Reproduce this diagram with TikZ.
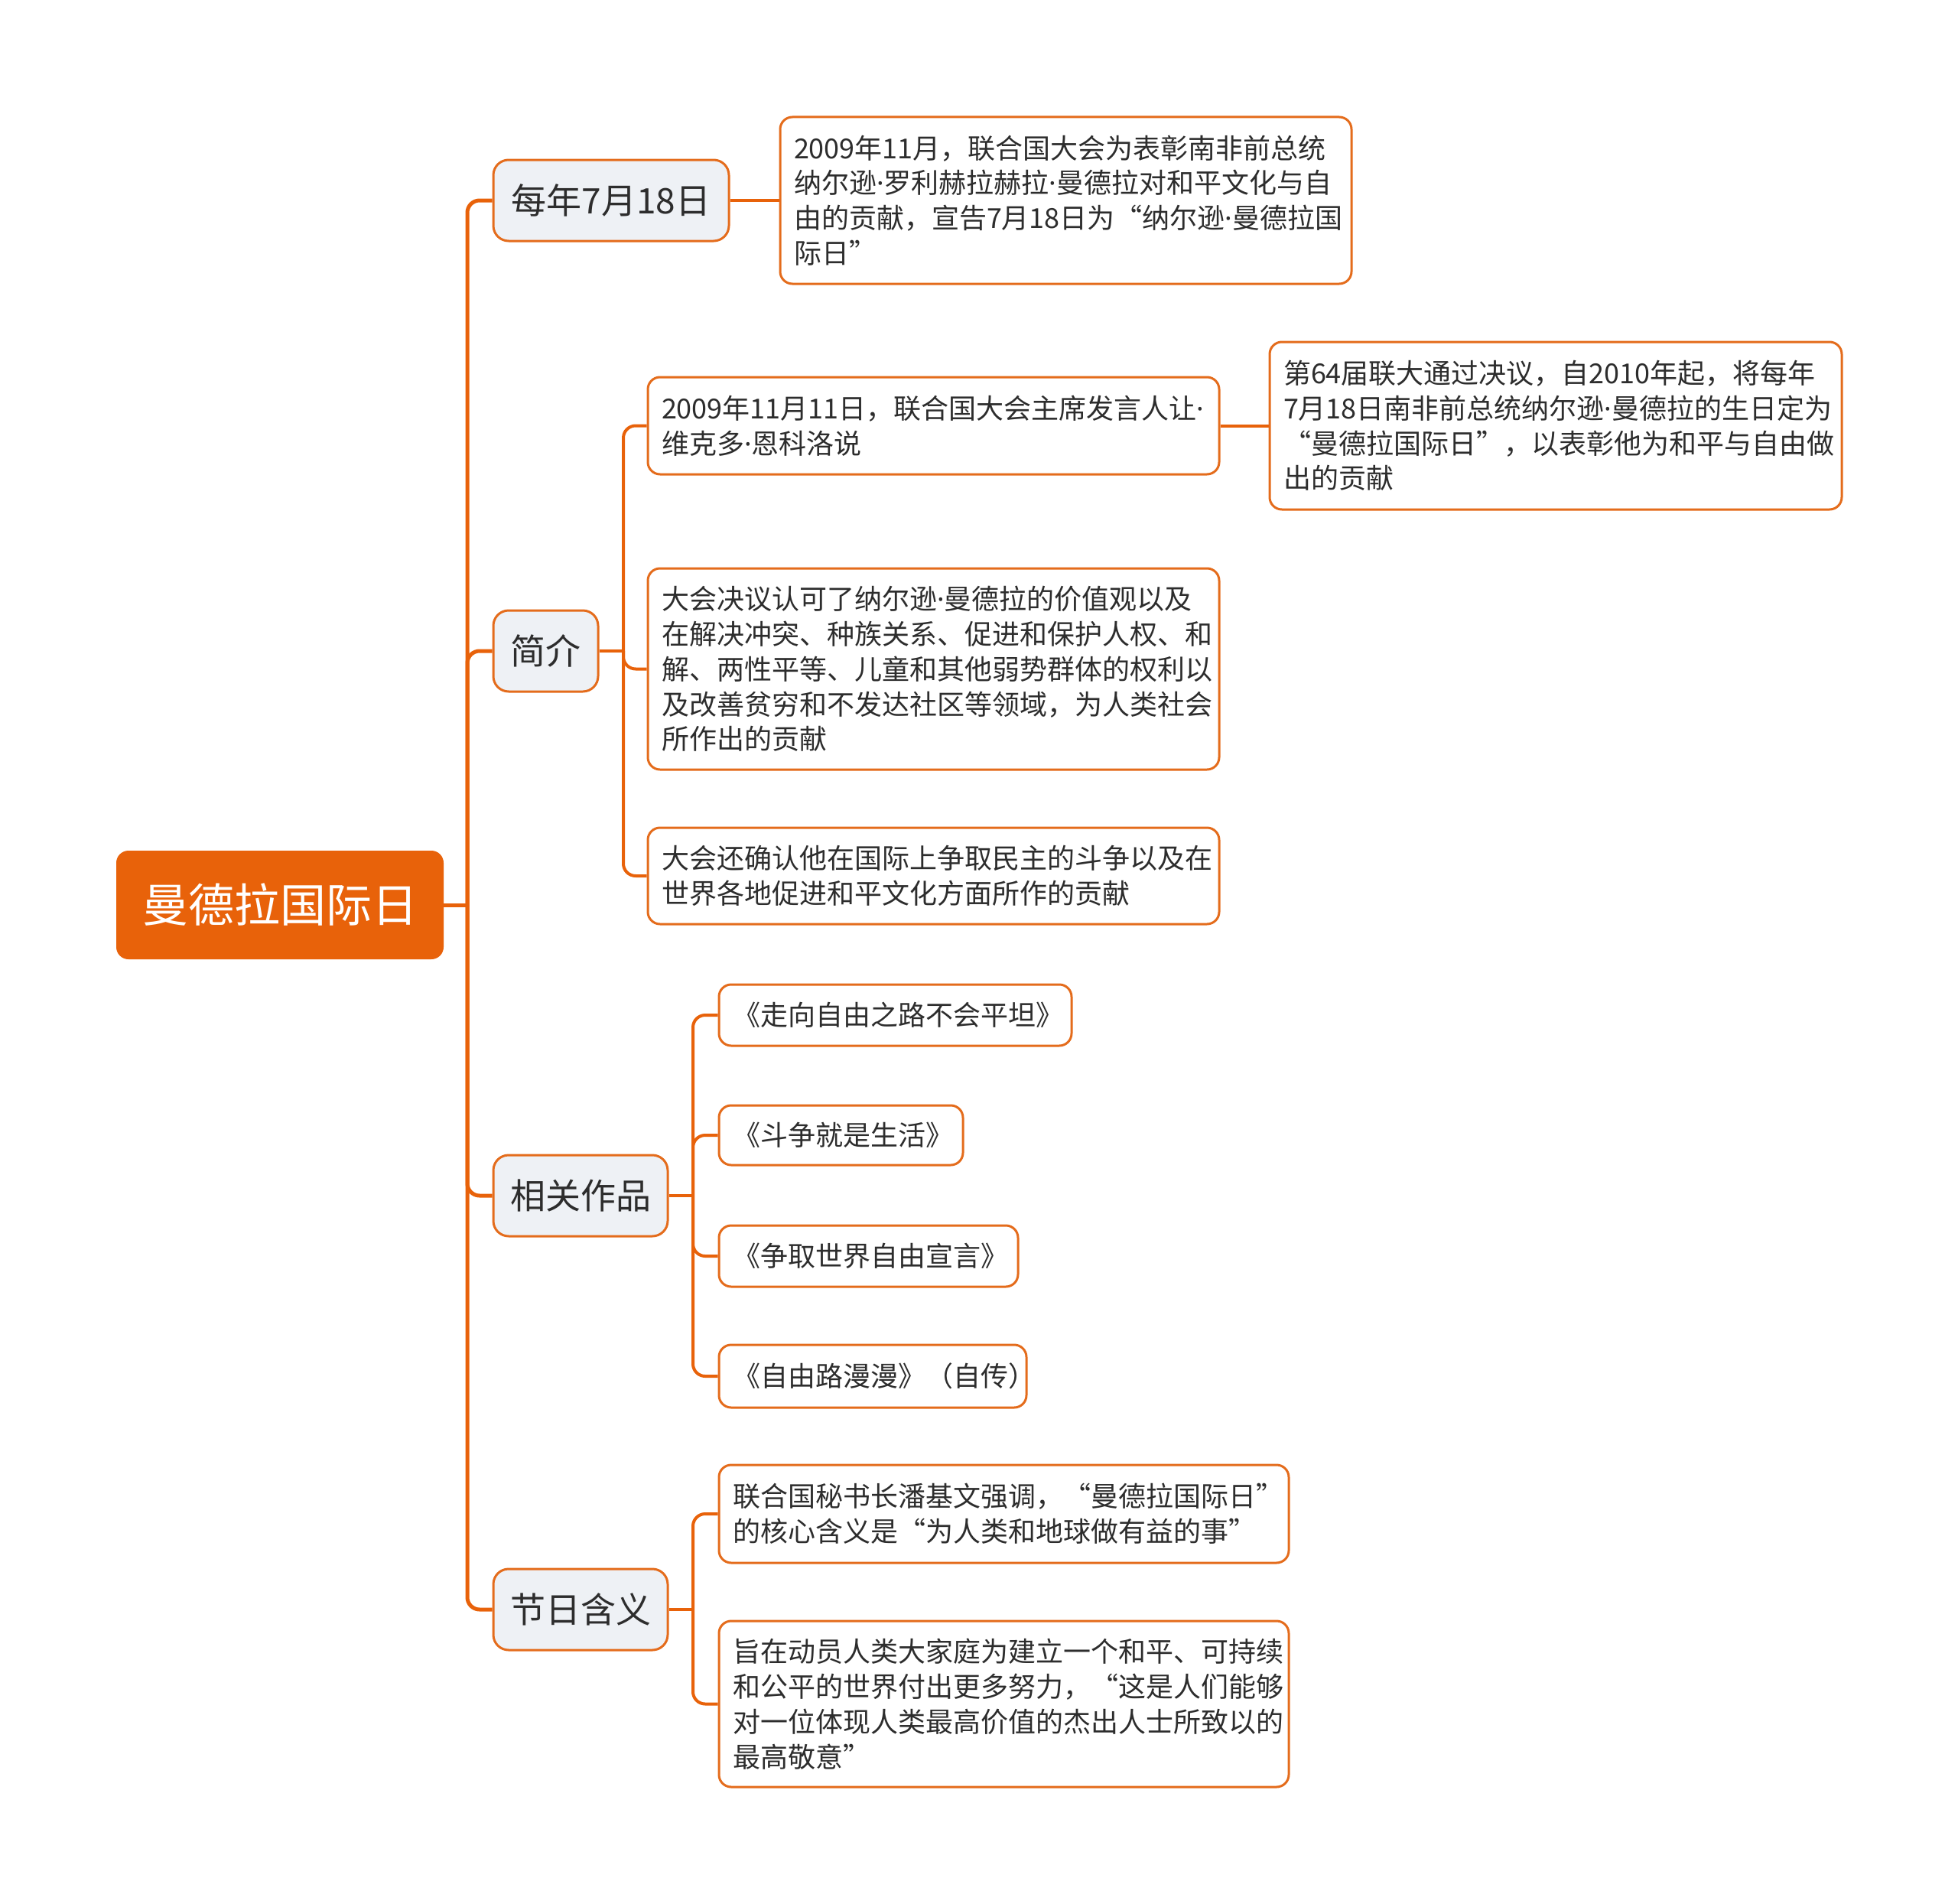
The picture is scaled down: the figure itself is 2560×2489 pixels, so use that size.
\documentclass[tikz,border=0pt]{standalone}
\usepackage{fontspec}
\setmainfont{Noto Sans CJK SC}
\newfontfamily\latinf{Noto Sans}
\newcommand{\mdot}{{\latinf ·}}
\usetikzlibrary{backgrounds}
\definecolor{mainor}{RGB}{232,98,10}
\definecolor{boxor}{RGB}{228,108,28}
\definecolor{topicfill}{RGB}{238,241,245}
\definecolor{txt}{RGB}{45,45,45}
\tikzset{
 rootbox/.style={rectangle, rounded corners=8pt, fill=mainor, text=white, font=\fontsize{30pt}{36pt}\selectfont, inner sep=0pt, minimum height=71pt, minimum width=214pt},
 topicbox/.style={rectangle, rounded corners=10pt, draw=boxor, line width=1.5pt, fill=topicfill, text=txt, font=\fontsize{23pt}{28pt}\selectfont, inner sep=0pt, minimum height=53pt},
 leafbox/.style={rectangle, rounded corners=8pt, draw=boxor, line width=1.5pt, fill=white, text=txt, font=\fontsize{18pt}{22.9pt}\selectfont, inner xsep=9pt, inner ysep=0pt, align=left},
 link/.style={draw=mainor, line width=2.5pt, rounded corners=8pt},
 sublink/.style={draw=mainor, line width=2pt, rounded corners=8pt},
}
\begin{document}
\begin{tikzpicture}[x=0.5pt, y=-0.5pt]
\useasboundingbox (0,0) rectangle (2560,2489);
\node[rootbox] (root) at (366,1183) {曼德拉国际日};
\node[topicbox, minimum width=154pt] (n1) at (799,262) {每年7月18日};
\node[topicbox, minimum width=68.5pt] (n2) at (713.5,851) {简介};
\node[topicbox, minimum width=114pt] (n3) at (759,1563) {相关作品};
\node[topicbox, minimum width=114pt] (n4) at (759,2104) {节日含义};

\node[leafbox, text width=355.5pt, minimum height=109pt] (a1) at (1393.5,262) {2009年11月，联合国大会为表彰南非前总统\\纳尔逊\mdot 罗利赫拉赫拉\mdot 曼德拉对和平文化与自\\由的贡献，宣告7月18日为“纳尔逊\mdot 曼德拉国\\际日”};
\node[leafbox, text width=355.5pt, minimum height=63.5pt] (b1) at (1220.5,556.5) {2009年11月11日，联合国大会主席发言人让\mdot\\维克多\mdot 恩科洛说};
\node[leafbox, text width=356pt, minimum height=109.5pt] (b1a) at (2034,556.5) {第64届联大通过决议，自2010年起，将每年\\7月18日南非前总统纳尔逊\mdot 曼德拉的生日定为\\“曼德拉国际日”，以表彰他为和平与自由做\\出的贡献};
\node[leafbox, text width=355.5pt, minimum height=131.5pt] (b2) at (1220.5,874.5) {大会决议认可了纳尔逊\mdot 曼德拉的价值观以及\\在解决冲突、种族关系、促进和保护人权、和\\解、两性平等、儿童和其他弱势群体的权利以\\及改善贫穷和不发达社区等领域，为人类社会\\所作出的贡献};
\node[leafbox, text width=355.5pt, minimum height=63pt] (b3) at (1220.5,1145) {大会还确认他在国际上争取民主的斗争以及在\\世界各地促进和平文化方面所作的贡献};
\node[leafbox, text width=212.5pt, minimum height=40pt] (c1) at (1170.5,1327) {《走向自由之路不会平坦》};
\node[leafbox, text width=141.5pt, minimum height=39pt] (c2) at (1099.5,1484) {《斗争就是生活》};
\node[leafbox, text width=177.5pt, minimum height=40pt] (c3) at (1135.5,1642) {《争取世界自由宣言》};
\node[leafbox, text width=183pt, minimum height=41pt] (c4) at (1141,1799) {《自由路漫漫》（自传）};
\node[leafbox, text width=354.5pt, minimum height=64pt] (d1) at (1312.5,1979) {联合国秘书长潘基文强调，“曼德拉国际日”\\的核心含义是“为人类和地球做有益的事”};
\node[leafbox, text width=354.5pt, minimum height=108.5pt] (d2) at (1312.5,2227.5) {旨在动员人类大家庭为建立一个和平、可持续\\和公平的世界付出更多努力，“这是人们能够\\对一位体现人类最高价值的杰出人士所致以的\\最高敬意”};

\coordinate (tm) at (611,0);
\coordinate (tb) at (815,0);
\coordinate (tc) at (906,0);
\coordinate (td) at (906,0);
\begin{scope}[on background layer]
\draw[link] (root.east) -- (tm|-root.east);
\foreach \n in {n1,n2,n3,n4} {\draw[link] (tm|-root.east) |- (\n.west);}
\draw[sublink] (n1.east) -- (a1.west);
\draw[sublink] (n2.east) -- (tb|-n2.east);
\foreach \n in {b1,b2,b3} {\draw[sublink] (tb|-n2.east) |- (\n.west);}
\draw[sublink] (b1.east) -- (b1a.west);
\draw[sublink] (n3.east) -- (tc|-n3.east);
\foreach \n in {c1,c2,c3,c4} {\draw[sublink] (tc|-n3.east) |- (\n.west);}
\draw[sublink] (n4.east) -- (td|-n4.east);
\foreach \n in {d1,d2} {\draw[sublink] (td|-n4.east) |- (\n.west);}
\end{scope}
\end{tikzpicture}
\end{document}
